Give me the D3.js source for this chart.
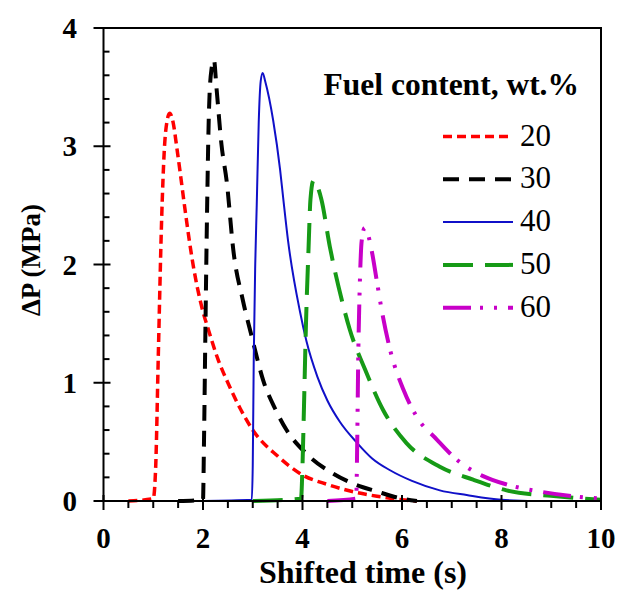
<!DOCTYPE html>
<html>
<head>
<meta charset="utf-8">
<script src="https://cdn.jsdelivr.net/npm/d3@7"></script>
<style>
  body { margin: 0; background: #fff; }
  svg { display: block; }
</style>
</head>
<body>
<svg id="chart" width="619" height="590"></svg>
<script>
// values, [time s, dP MPa]
const fuel20 = [[0.5,0],[1.0,0.02],[1.05,0.3],[1.1,1.2],[1.17,2.4],[1.22,2.95],[1.28,3.22],[1.33,3.28],[1.4,3.2],[1.47,3.0],[1.55,2.75],[1.64,2.46],[1.8,2.0],[2.0,1.6],[2.1,1.46],[2.3,1.2],[2.5,1.0],[2.75,0.78],[3.0,0.6],[3.5,0.38],[4.0,0.22],[4.5,0.14],[5.0,0.08],[5.5,0.04],[6.0,0.01],[6.3,0]];
const fuel30 = [[1.5,0],[2.0,0.01],[2.02,0.5],[2.05,1.5],[2.08,2.4],[2.12,3.3],[2.17,3.65],[2.22,3.73],[2.27,3.5],[2.37,3.02],[2.48,2.69],[2.61,2.12],[2.8,1.7],[2.98,1.39],[3.21,1.02],[3.45,0.78],[3.68,0.6],[4.08,0.4],[4.62,0.23],[5.0,0.15],[5.5,0.08],[6.0,0.02],[6.3,0]];
const fuel40 = [[2.0,0],[2.98,0.01],[3.0,0.3],[3.02,1.2],[3.05,2.0],[3.08,2.5],[3.12,3.2],[3.16,3.55],[3.2,3.62],[3.25,3.55],[3.41,3.22],[3.55,2.8],[3.61,2.57],[3.71,2.2],[3.95,1.6],[4.08,1.35],[4.3,1.05],[4.5,0.85],[4.75,0.67],[5.1,0.49],[5.4,0.36],[5.76,0.26],[6.2,0.17],[6.76,0.09],[7.3,0.05],[8.0,0.01],[8.7,0]];
const fuel50 = [[3.0,0],[3.97,0.02],[4.0,0.3],[4.03,0.8],[4.07,1.5],[4.12,2.12],[4.16,2.55],[4.22,2.71],[4.3,2.66],[4.38,2.55],[4.55,2.15],[4.79,1.7],[4.95,1.45],[5.26,1.11],[5.62,0.77],[6.09,0.49],[6.76,0.29],[7.43,0.18],[8.1,0.09],[9.1,0.04],[10,0.01]];
const fuel60 = [[4.5,0],[5.08,0.02],[5.1,0.5],[5.12,1.2],[5.15,1.8],[5.19,2.2],[5.25,2.31],[5.32,2.25],[5.39,2.12],[5.49,1.87],[5.59,1.62],[5.76,1.28],[6.03,0.94],[6.3,0.71],[6.7,0.52],[7.1,0.35],[7.63,0.21],[8.1,0.14],[8.77,0.08],[9.44,0.04],[10,0.02]];

const seriesNames = ["20", "30", "40", "50", "60"];
const seriesData = [fuel20, fuel30, fuel40, fuel50, fuel60];
const xTicks = [0, 2, 4, 6, 8, 10];
const yTicks = [0, 1, 2, 3, 4];

const styles = [
    { color: "#ff0000", width: 3.5, dash: "9,5" },
    { color: "#000000", width: 4, dash: "16,10" },
    { color: "#1010c8", width: 2, dash: null },
    { color: "#169a16", width: 4, dash: "30,12" },
    { color: "#c800c8", width: 4, dash: "28,9,3,11,3,11" }
];

const svg = d3.select("#chart");
const mLeft = 103.5, mRight = 601, mTop = 28, mBottom = 501;

const x = d3.scaleLinear().domain([0, 10]).range([mLeft, mRight]);
const y = d3.scaleLinear().domain([0, 4]).range([mBottom, mTop]);

const serif = "'Liberation Serif', 'Times New Roman', serif";

// curves
const line = d3.line()
    .x(function(d) { return x(d[0]); })
    .y(function(d) { return y(d[1]); })
    .curve(d3.curveMonotoneX);

svg.append("g").selectAll("path")
    .data(seriesData)
    .enter().append("path")
    .attr("d", line)
    .attr("fill", "none")
    .attr("stroke", function(d, i) { return styles[i].color; })
    .attr("stroke-width", function(d, i) { return styles[i].width; })
    .attr("stroke-dasharray", function(d, i) { return styles[i].dash; });

// frame
svg.append("rect")
    .attr("x", mLeft).attr("y", mTop)
    .attr("width", mRight - mLeft).attr("height", mBottom - mTop)
    .attr("fill", "none").attr("stroke", "#000").attr("stroke-width", 2);

// x ticks: minor every 0.5 outside, major crossing
const ax = svg.append("g").attr("stroke", "#000").attr("stroke-width", 2);
d3.range(0, 10.01, 0.5).forEach(function(v) {
    const major = Math.abs(v % 2) < 1e-9;
    ax.append("line")
        .attr("x1", x(v)).attr("x2", x(v))
        .attr("y1", major ? mBottom - 6 : mBottom)
        .attr("y2", mBottom + (major ? 9 : 7));
});
// y ticks: minor every 0.2 inside, major crossing
d3.range(0, 4.001, 0.2).forEach(function(v) {
    const major = Math.abs(v - Math.round(v)) < 1e-9;
    ax.append("line")
        .attr("y1", y(v)).attr("y2", y(v))
        .attr("x1", major ? mLeft - 10 : mLeft)
        .attr("x2", mLeft + (major ? 7 : 6));
});

// tick labels
svg.append("g").selectAll("text")
    .data(xTicks)
    .enter().append("text")
    .attr("x", function(d) { return x(d); })
    .attr("y", 548)
    .attr("text-anchor", "middle")
    .style("font-family", serif).style("font-weight", "bold").style("font-size", "29px")
    .text(function(d) { return d; });

svg.append("g").selectAll("text")
    .data(yTicks)
    .enter().append("text")
    .attr("x", 77)
    .attr("y", function(d) { return y(d) + 10; })
    .attr("text-anchor", "end")
    .style("font-family", serif).style("font-weight", "bold").style("font-size", "29px")
    .text(function(d) { return d; });

// axis titles
svg.append("text")
    .attr("x", 363).attr("y", 583)
    .attr("text-anchor", "middle")
    .style("font-family", serif).style("font-weight", "bold").style("font-size", "32px")
    .text("Shifted time (s)");

svg.append("text")
    .attr("transform", "translate(40,260) rotate(-90)")
    .attr("text-anchor", "middle")
    .style("font-family", serif).style("font-weight", "bold").style("font-size", "27px")
    .text("ΔP (MPa)");

// legend
svg.append("text")
    .attr("x", 579).attr("y", 95)
    .attr("text-anchor", "end")
    .style("font-family", serif).style("font-weight", "bold").style("font-size", "31.5px")
    .text("Fuel content, wt.%");

const legend = svg.append("g").selectAll("g")
    .data(seriesNames)
    .enter().append("g")
    .attr("transform", function(d, i) { return "translate(0," + (136.5 + i * 42.8) + ")"; });

legend.append("line")
    .attr("x1", 443).attr("x2", 513)
    .attr("stroke", function(d, i) { return styles[i].color; })
    .attr("stroke-width", function(d, i) { return styles[i].width; })
    .attr("stroke-dasharray", function(d, i) { return styles[i].dash; });

legend.append("text")
    .attr("x", 520).attr("y", 9)
    .style("font-family", serif).style("font-size", "31px")
    .text(function(d) { return d; });
</script>
</body>
</html>
